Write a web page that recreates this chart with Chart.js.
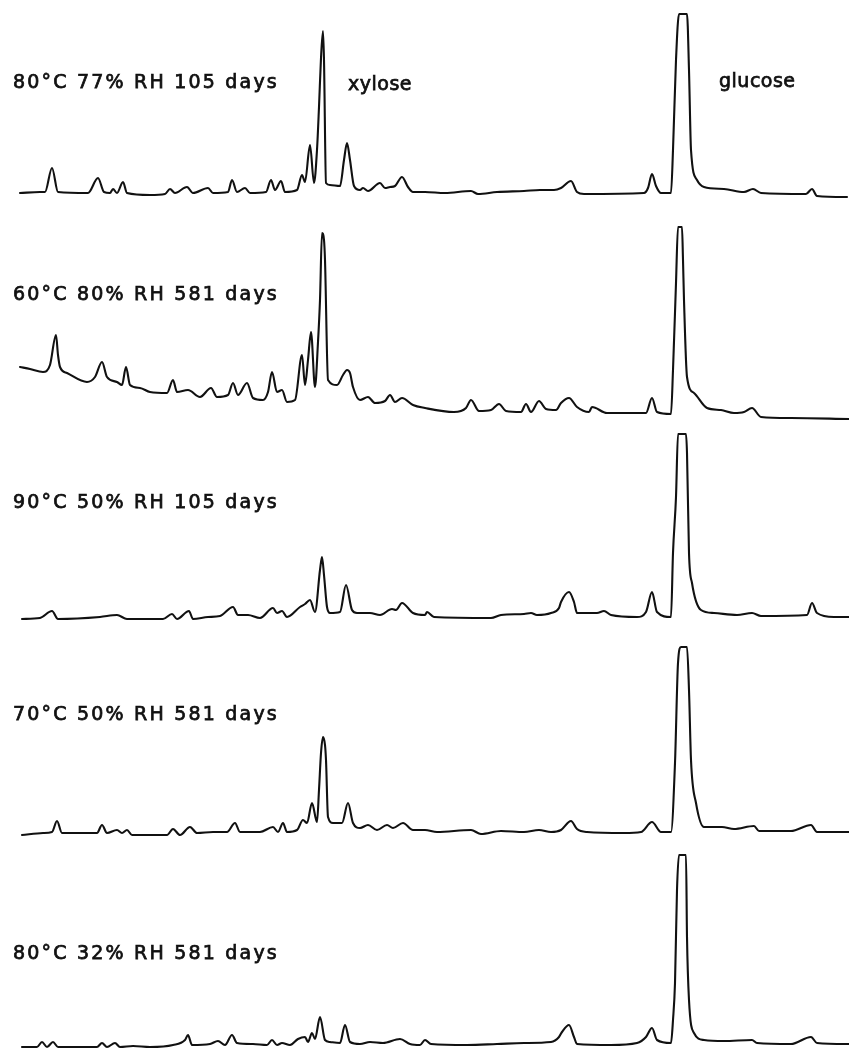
<!DOCTYPE html>
<html>
<head>
<meta charset="utf-8">
<script src="https://cdn.jsdelivr.net/npm/chart.js@4"></script>
<style>
  html, body { margin: 0; padding: 0; background: #fff; }
  body { width: 849px; height: 1049px; position: relative; overflow: hidden; }
  canvas { position: absolute; left: 0; }
  .lbl {
    position: absolute;
    font-family: "DejaVu Sans", sans-serif;
    font-size: 19px;
    line-height: 19px;
    letter-spacing: 2.2px;
    color: #111;
    -webkit-text-stroke: 0.75px #111;
    white-space: nowrap;
  }
  .lbl.peak { letter-spacing: 0.5px; }
</style>
</head>
<body>

<script>
// chromatograms, x = retention (arbitrary units), y = detector response
const traceLabels = [
  "80°C 77% RH 105 days",
  "60°C 80% RH 581 days",
  "90°C 50% RH 105 days",
  "70°C 50% RH 581 days",
  "80°C 32% RH 581 days"
];
const peakNames = ["xylose", "glucose"];

const trace1 = [
  [2.0,7],[4.0,8],[4.5,8],[5.2,32],[5.8,8],[8.8,7],[9.8,22],[10.4,8],[11.0,7],[11.3,11],
  [11.7,7],[12.3,18],[12.7,7],[15.0,5],[16.5,6],[17.0,11],[17.5,7],[18.7,13],[19.3,7],
  [20.8,12],[21.3,7],[22.8,8],[23.2,20],[23.7,8],[24.5,12],[25.0,7],[26.6,8],[27.1,20],
  [27.5,10],[28.1,19],[28.5,8],[29.7,10],[30.2,25],[30.5,18],[31.0,55],[31.4,17],[31.7,50],
  [31.9,93],[32.1,142],[32.3,169],[32.4,140],[32.6,17],[33.0,15],[34.0,14],[34.4,40],
  [34.7,57],[35.0,40],[35.4,14],[36.0,10],[36.3,12],[36.8,9],[38.0,17],[38.5,12],[39.0,13],
  [39.5,14],[40.2,23],[40.8,13],[41.3,8],[42.5,8],[44.5,7],[47.1,9],[47.8,6],[49.7,8],
  [52.4,9],[54.0,10],[55.4,10],[56.1,12],[57.1,19],[57.7,8],[58.4,6],[64.4,7],[64.8,12],
  [65.2,26],[65.6,14],[66.1,7],[67.1,7],[67.3,50],[67.6,140],[67.9,186],[68.7,186],
  [68.9,130],[69.1,50],[69.7,20],[70.4,13],[72.4,11],[74.4,8],[75.3,11],[76.1,7],[80.6,6],
  [81.2,11],[81.7,4],[84.7,3]
];

const trace2 = [
  [2.0,48],[3.0,46],[4.3,43],[5.0,50],[5.6,80],[5.8,60],[6.0,48],[6.7,42],[8.7,33],[9.5,38],
  [10.2,53],[10.7,38],[11.7,33],[12.2,30],[12.6,48],[13.0,30],[14.0,27],[15.0,23],[16.7,22],
  [17.3,35],[17.7,23],[18.8,25],[20.0,18],[21.1,27],[21.7,18],[22.8,20],[23.3,32],[23.8,20],
  [24.7,32],[25.3,17],[26.3,15],[26.8,23],[27.2,43],[27.7,23],[28.2,25],[28.7,13],[29.5,15],
  [30.2,60],[30.5,30],[30.8,55],[31.1,83],[31.5,28],[31.8,73],[32.0,115],[32.2,182],
  [32.4,175],[32.5,155],[32.8,35],[33.7,30],[34.3,40],[34.7,45],[35.0,42],[35.3,28],
  [36.0,15],[36.8,18],[37.5,12],[38.5,14],[39.0,20],[39.5,13],[40.2,17],[41.3,10],[42.5,7],
  [45.4,3],[46.6,7],[47.1,15],[47.9,4],[49.1,5],[49.9,11],[50.6,4],[52.1,3],[52.6,11],
  [53.1,3],[53.9,14],[54.6,6],[55.6,5],[56.1,12],[56.9,17],[57.7,8],[58.9,3],[59.2,8],
  [60.7,2],[64.6,2],[65.2,17],[65.7,3],[67.1,1],[67.3,45],[67.6,132],[67.8,188],[68.2,188],
  [68.3,155],[68.4,115],[68.7,38],[69.4,22],[70.7,7],[72.1,5],[73.4,2],[74.4,3],[75.2,7],
  [76.1,-2],[79.1,-3],[84.9,-4]
];

const trace3 = [
  [2.2,6],[4.0,7],[5.2,14],[5.8,6],[10.0,8],[11.7,10],[12.7,6],[16.3,6],[17.2,11],[17.7,6],
  [18.9,14],[19.3,6],[20.8,8],[22.0,9],[23.3,18],[23.8,10],[24.8,10],[26.0,7],[27.3,17],
  [27.7,12],[28.2,14],[28.7,8],[30.0,18],[30.5,21],[31.0,25],[31.5,13],[32.0,55],[32.2,68],
  [32.4,50],[32.7,18],[33.0,12],[34.0,13],[34.6,40],[35.2,15],[35.7,12],[37.0,12],[38.0,10],
  [39.2,16],[39.6,15],[40.2,22],[41.3,12],[42.5,10],[42.7,13],[43.4,8],[49.1,7],[50.1,10],
  [52.4,11],[53.1,12],[53.7,10],[55.1,12],[55.9,17],[56.1,23],[56.9,33],[57.4,23],[57.7,12],
  [59.7,12],[60.4,14],[61.1,10],[63.7,8],[64.6,13],[65.2,33],[65.7,13],[67.1,8],[67.3,72],
  [67.6,128],[67.8,191],[68.6,191],[68.7,172],[68.9,72],[69.2,42],[70.1,15],[71.4,12],
  [73.7,10],[75.2,12],[76.1,9],[80.7,10],[81.2,22],[81.7,12],[83.4,8],[84.9,8]
];

const trace4 = [
  [2.2,5],[4.3,7],[5.2,8],[5.7,19],[6.2,7],[9.7,7],[10.2,15],[10.7,7],[11.7,10],[12.2,7],
  [12.7,10],[13.2,5],[16.7,5],[17.3,11],[18.0,5],[19.0,13],[19.7,7],[21.3,8],[22.7,8],
  [23.5,17],[24.0,8],[26.0,8],[27.3,13],[27.8,8],[28.3,17],[28.7,8],[29.7,10],[30.3,20],
  [30.7,17],[31.2,37],[31.7,18],[31.9,50],[32.1,87],[32.3,103],[32.5,95],[32.6,80],[32.8,23],
  [33.3,17],[34.2,17],[34.8,37],[35.3,17],[36.0,12],[36.8,15],[37.7,10],[38.7,15],[39.3,12],
  [40.3,17],[41.3,10],[42.5,10],[43.7,8],[47.1,10],[48.1,6],[50.1,9],[52.4,8],[53.9,10],
  [55.1,8],[56.1,10],[57.1,19],[57.7,11],[58.7,8],[62.4,7],[64.1,8],[65.2,18],[66.1,8],
  [67.1,8],[67.5,77],[67.8,177],[68.1,193],[68.7,193],[68.9,150],[69.1,80],[69.6,37],
  [70.4,13],[72.2,13],[73.4,11],[75.4,14],[75.9,9],[79.1,9],[81.1,15],[81.7,8],[84.9,8]
];

const trace5 = [
  [2.2,2],[3.7,2],[4.2,7],[4.7,2],[5.3,7],[5.8,2],[9.7,2],[10.2,6],[10.7,2],[11.5,6],
  [12.0,2],[13.3,3],[15.0,2],[17.3,4],[18.5,9],[18.8,14],[19.2,4],[21.0,5],[21.8,8],[22.5,4],
  [23.2,14],[23.7,6],[25.3,5],[26.7,4],[27.2,9],[27.7,4],[28.2,6],[29.0,4],[29.8,10],
  [30.5,12],[30.8,7],[31.2,16],[31.5,10],[32.0,32],[32.5,9],[33.0,7],[34.0,6],[34.5,24],
  [35.0,7],[36.0,5],[37.0,7],[38.3,6],[40.0,10],[41.0,5],[42.0,4],[42.5,9],[43.1,5],
  [46.7,4],[49.7,5],[52.4,6],[55.1,7],[55.9,12],[56.2,17],[56.9,24],[57.4,12],[57.7,5],
  [61.1,4],[63.7,6],[64.6,12],[65.2,21],[65.7,9],[67.1,6],[67.3,29],[67.5,66],[67.7,159],
  [67.9,194],[68.6,194],[68.7,112],[68.9,49],[69.4,16],[70.4,9],[72.4,8],[75.2,9],[75.7,6],
  [79.1,5],[81.1,12],[81.7,6],[84.9,5]
];

const traces = [trace1, trace2, trace3, trace4, trace5];

// layout of the stacked panels
const panelTop = [0, 215, 425, 640, 849];
const labelTop = [72, 284, 492, 704, 943];
const peakLabelPos = [{left: 348, top: 74}, {left: 719, top: 71}];

traces.forEach(function(pts, i) {
  const cv = document.createElement("canvas");
  cv.width = 849;
  cv.height = 210;
  cv.style.top = panelTop[i] + "px";
  document.body.appendChild(cv);

  new Chart(cv.getContext("2d"), {
    type: "line",
    data: {
      datasets: [{
        data: pts.map(p => ({x: p[0], y: p[1]})),
        borderColor: "#111",
        borderWidth: 2.1,
        pointRadius: 0,
        cubicInterpolationMode: "monotone",
        fill: false,
        clip: false
      }]
    },
    options: {
      responsive: false,
      animation: false,
      events: [],
      layout: {padding: 0},
      plugins: {legend: {display: false}, tooltip: {enabled: false}},
      elements: {line: {borderJoinStyle: "round", borderCapStyle: "round"}},
      scales: {
        x: {type: "linear", min: 0, max: 84.9, display: false},
        y: {type: "linear", min: -10, max: 200, display: false}
      }
    }
  });

  const d = document.createElement("div");
  d.className = "lbl";
  d.style.left = "13px";
  d.style.top = labelTop[i] + "px";
  d.textContent = traceLabels[i];
  document.body.appendChild(d);
});

peakNames.forEach(function(name, i) {
  const d = document.createElement("div");
  d.className = "lbl peak";
  d.style.left = peakLabelPos[i].left + "px";
  d.style.top = peakLabelPos[i].top + "px";
  d.textContent = name;
  document.body.appendChild(d);
});
</script>
</body>
</html>
